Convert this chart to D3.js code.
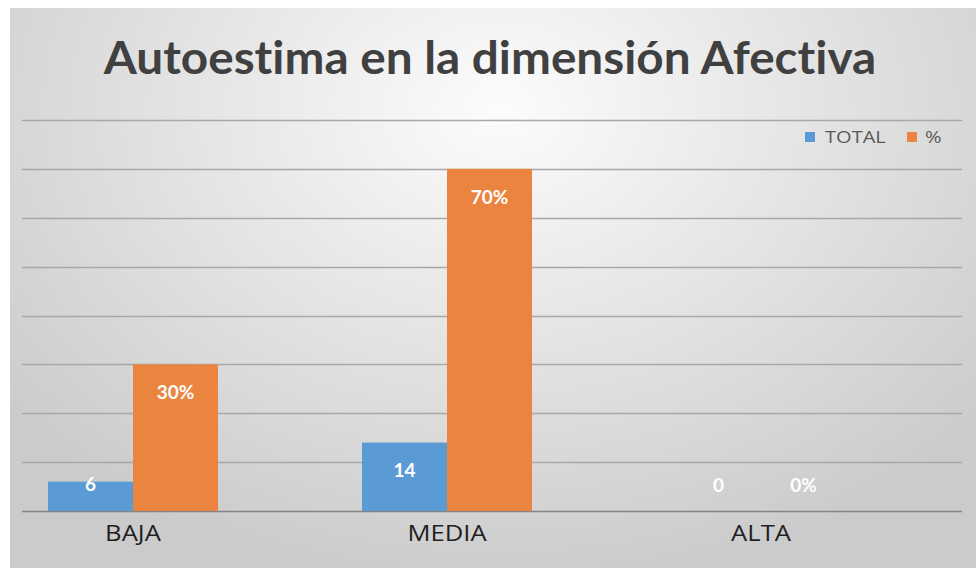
<!DOCTYPE html>
<html>
<head>
<meta charset="utf-8">
<script src="https://cdn.jsdelivr.net/npm/d3@7"></script>
<style>
  html, body { margin: 0; padding: 0; background: #ffffff; }
  svg { display: block; }
  text { font-variant-ligatures: none; }
</style>
</head>
<body>
<svg id="chart" width="976" height="569"></svg>
<script>
// Categories, series and gridline ticks
const categories = ["BAJA", "MEDIA", "ALTA"];
const seriesNames = ["TOTAL", "%"];
const totalValues = [6, 14, 0];
const percentValues = [30, 70, 0];
const percentLabels = ["30%", "70%", "0%"];
const gridTicks = [0, 10, 20, 30, 40, 50, 60, 70, 80];
const titleText = "Autoestima en la dimensión Afectiva";

const colors = { "TOTAL": "#5b9bd5", "%": "#eb843e" };

const svg = d3.select("#chart");
const W = 976, H = 569;

// Background panel with soft radial shading
const defs = svg.append("defs");
const grad = defs.append("radialGradient")
  .attr("id", "bg")
  .attr("gradientUnits", "userSpaceOnUse")
  .attr("cx", 500).attr("cy", 110).attr("r", 640)
  .attr("gradientTransform", "translate(500,110) scale(1,0.75) translate(-500,-110)");
grad.append("stop").attr("offset", "0%").attr("stop-color", "#fcfcfc");
grad.append("stop").attr("offset", "55%").attr("stop-color", "#e1e1e1");
grad.append("stop").attr("offset", "100%").attr("stop-color", "#cbcbcb");

svg.append("rect")
  .attr("x", 10).attr("y", 8)
  .attr("width", W - 10).attr("height", H - 9)
  .attr("fill", "url(#bg)");

// Scales
const y = d3.scaleLinear().domain([0, 80]).range([511, 120]);
const x = d3.scalePoint().domain(categories).range([133, 761]);
const xs = d3.scaleBand().domain(seriesNames).range([-85, 85]).padding(0);

const gridLeft = 22, gridRight = 962;

// Horizontal gridlines
svg.append("g")
  .selectAll("line")
  .data(gridTicks)
  .join("line")
  .attr("x1", gridLeft).attr("x2", gridRight)
  .attr("y1", d => Math.round(y(d)) + 0.5)
  .attr("y2", d => Math.round(y(d)) + 0.5)
  .attr("stroke", d => d === 0 ? "#858585" : "#a8a8a8")
  .attr("stroke-width", 1.3);

// Bars
const rows = categories.map((c, i) => ({
  cat: c,
  items: [
    { series: "TOTAL", value: totalValues[i], label: String(totalValues[i]) },
    { series: "%", value: percentValues[i], label: percentLabels[i] }
  ]
}));

const groups = svg.append("g")
  .selectAll("g")
  .data(rows)
  .join("g")
  .attr("transform", d => `translate(${x(d.cat)},0)`);

groups.selectAll("rect")
  .data(d => d.items)
  .join("rect")
  .attr("x", d => xs(d.series))
  .attr("width", xs.bandwidth())
  .attr("y", d => y(d.value))
  .attr("height", d => y(0) - y(d.value))
  .attr("fill", d => colors[d.series]);

// Value labels at the inside end of each bar
function labelY(v) {
  const top = y(v), h = y(0) - top;
  if (h >= 40) return top + 28;
  if (h > 0) return top + 3;
  return top - 26;
}

groups.selectAll("text.val")
  .data(d => d.items)
  .join("text")
  .attr("class", "val")
  .attr("x", d => xs(d.series) + xs.bandwidth() / 2)
  .attr("y", d => labelY(d.value))
  .attr("dy", "0.35em")
  .attr("text-anchor", "middle")
  .attr("font-family", "Lato, 'Open Sans', sans-serif")
  .attr("font-weight", 700)
  .attr("font-size", 19)
  .attr("fill", "#ffffff")
  .text(d => d.label);

// Category labels (slightly widened lettering)
svg.append("g")
  .selectAll("text")
  .data(categories)
  .join("text")
  .attr("transform", d => `translate(${x(d)},541) scale(1.22,1)`)
  .attr("text-anchor", "middle")
  .attr("font-family", "'Open Sans', 'Noto Sans', sans-serif")
  .attr("font-size", 21)
  .attr("fill", "#1f1f1f")
  .text(d => d);

// Title
svg.append("text")
  .attr("transform", "translate(490,74) scale(1.06,1)")
  .attr("text-anchor", "middle")
  .attr("font-family", "Lato, 'Open Sans', sans-serif")
  .attr("font-weight", 700)
  .attr("font-size", 45)
  .attr("fill", "#404040")
  .text(titleText);

// Legend
const legendItems = [
  { name: "TOTAL", sx: 805, tx: 825 },
  { name: "%", sx: 907, tx: 925 }
];
const legend = svg.append("g");
legend.selectAll("rect")
  .data(legendItems)
  .join("rect")
  .attr("x", d => d.sx).attr("y", 132)
  .attr("width", 10).attr("height", 10)
  .attr("fill", d => colors[d.name]);
legend.selectAll("text")
  .data(legendItems)
  .join("text")
  .attr("transform", d => `translate(${d.tx},137) scale(1.18,1)`)
  .attr("dy", "0.35em")
  .attr("font-family", "'Open Sans', 'Noto Sans', sans-serif")
  .attr("font-size", 17)
  .attr("fill", "#595959")
  .text(d => d.name);
</script>
</body>
</html>
